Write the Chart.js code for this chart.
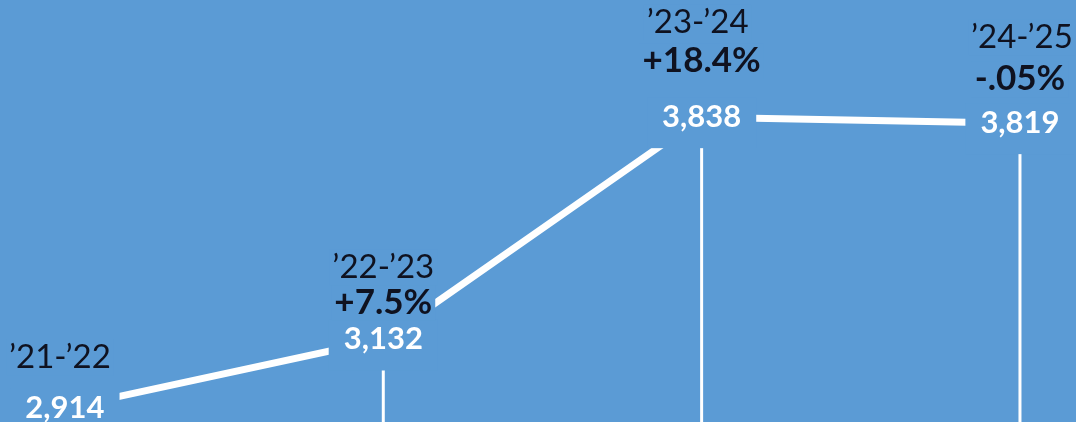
<!DOCTYPE html>
<html>
<head>
<meta charset="utf-8">
<script src="https://cdn.jsdelivr.net/npm/chart.js@4"></script>
<style>
  html, body { margin: 0; padding: 0; background: #5b9bd5; }
  #wrap { width: 1076px; height: 422px; position: relative; }
</style>
</head>
<body>
<div id="wrap"><canvas id="c"></canvas></div>
<script>
// school years, enrollment and year-over-year change
const seasons = ['\u201921-\u201922', '\u201922-\u201923', '\u201923-\u201924', '\u201924-\u201925'];
const enrollment = [2914, 3132, 3838, 3819];
const changeLabels = ['', '+7.5%', '+18.4%', '-.05%'];

const BG = '#5b9bd5';
const INK = '#0f1220';
const FONT = 'Lato, "Noto Sans", sans-serif';

// background fill
const bgPlugin = {
  id: 'bg',
  beforeDraw(chart) {
    const { ctx } = chart;
    ctx.save();
    ctx.fillStyle = BG;
    ctx.fillRect(0, 0, chart.width, chart.height);
    ctx.restore();
  }
};

// drop lines from each point to the bottom
const dropPlugin = {
  id: 'drops',
  beforeDatasetsDraw(chart) {
    const { ctx } = chart;
    const meta = chart.getDatasetMeta(0);
    ctx.save();
    ctx.strokeStyle = '#ffffff';
    ctx.lineWidth = 3;
    meta.data.forEach(pt => {
      ctx.beginPath();
      ctx.moveTo(pt.x, pt.y);
      ctx.lineTo(pt.x, chart.height);
      ctx.stroke();
    });
    ctx.restore();
  }
};

// labels with blue boxes that knock out the line
const labelPlugin = {
  id: 'labels',
  afterDatasetsDraw(chart, args, opts) {
    const { ctx } = chart;
    const meta = chart.getDatasetMeta(0);
    ctx.save();
    ctx.textAlign = 'center';
    ctx.textBaseline = 'middle';
    meta.data.forEach((pt, i) => {
      // value
      ctx.font = 'bold 31px ' + FONT;
      const txt = enrollment[i].toLocaleString('en-US');
      const w = ctx.measureText(txt).width;
      ctx.fillStyle = BG;
      ctx.fillRect(pt.x - w / 2 - 15, pt.y - 20, w + 30, 51);
      ctx.fillStyle = '#ffffff';
      ctx.fillText(txt, pt.x, pt.y);

      // change %
      if (changeLabels[i]) {
        ctx.font = 'bold 35px ' + FONT;
        const pw = ctx.measureText(changeLabels[i]).width;
        const py = pt.y - opts.pctLift[i];
        ctx.fillStyle = BG;
        ctx.fillRect(pt.x - pw / 2 - 3, py - 18, pw + 6, 36);
        ctx.fillStyle = INK;
        ctx.fillText(changeLabels[i], pt.x, py);
      }

      // season
      ctx.font = '33px ' + FONT;
      const sw = ctx.measureText(seasons[i]).width;
      const sy = pt.y - opts.yearLift[i];
      const sx = pt.x + opts.yearShift[i];
      ctx.fillStyle = BG;
      ctx.fillRect(sx - sw / 2 - 3, sy - 18, sw + 6, 36);
      ctx.fillStyle = INK;
      ctx.fillText(seasons[i], sx, sy);
    });
    ctx.restore();
  }
};

new Chart(document.getElementById('c'), {
  type: 'line',
  data: {
    labels: seasons,
    datasets: [{
      data: enrollment.map((v, i) => ({ x: i, y: v })),
      borderColor: '#ffffff',
      borderWidth: 7,
      pointRadius: 0,
      tension: 0
    }]
  },
  options: {
    responsive: true,
    maintainAspectRatio: false,
    animation: false,
    layout: { padding: 0 },
    scales: {
      x: { type: 'linear', min: -0.204, max: 3.176, display: false },
      y: { min: 2870, max: 4210, display: false }
    },
    plugins: {
      legend: { display: false },
      tooltip: { enabled: false },
      labels: {
        yearLift: [51, 72, 95, 86],
        pctLift: [0, 37, 56, 44],
        yearShift: [-5, 0, -4, 2]
      }
    }
  },
  plugins: [bgPlugin, dropPlugin, labelPlugin]
});
</script>
</body>
</html>
